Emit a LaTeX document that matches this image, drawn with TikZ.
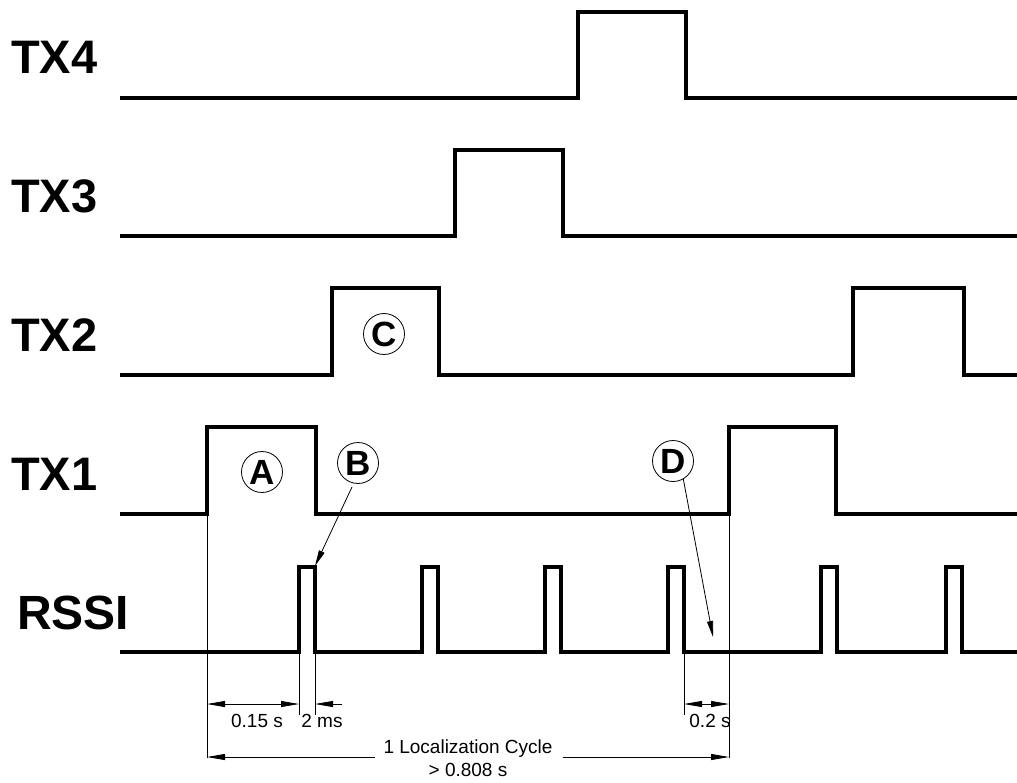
\documentclass[tikz,border=0pt]{standalone}
\usepackage{fontspec}
\setmainfont{Liberation Sans}
\usetikzlibrary{arrows.meta}
\begin{document}
\begin{tikzpicture}[x=1pt,y=-1pt,
  sig/.style={line width=3.2pt, line join=miter},
  fine/.style={line width=0.8pt},
  lbl/.style={font=\fontsize{47}{50}\selectfont\bfseries, anchor=base west, inner sep=0},
  circmark/.style={circle, draw, line width=0.8pt, minimum size=41pt, inner sep=0, outer sep=0, font=\fontsize{35}{35}\selectfont\bfseries},
  dimtxt/.style={font=\fontsize{19}{19}\selectfont, anchor=base, inner sep=0},
  >={Triangle[length=18pt,width=6pt]},
  callout/.style={fine, -{Triangle[length=16pt,width=6pt]}}
]
\useasboundingbox (0,0) rectangle (1017,782);

% labels
\node[lbl] (l4) at (11,73) {TX4};
\node[lbl] (l3) at (11,212) {TX3};
\node[lbl] (l2) at (11,351) {TX2};
\node[lbl] (l1) at (11,490) {TX1};
\node[lbl, font=\fontsize{48}{50}\selectfont\bfseries] (lr) at (17,629) {RSSI};

% waveforms
\draw[sig] (120,98) -- (578,98) -- (578,12) -- (686,12) -- (686,98) -- (1017,98);
\draw[sig] (120,236) -- (455,236) -- (455,150) -- (563,150) -- (563,236) -- (1017,236);
\draw[sig] (120,375) -- (332,375) -- (332,288) -- (439,288) -- (439,375)
  -- (853,375) -- (853,288) -- (964,288) -- (964,375) -- (1017,375);
\draw[sig] (120,514) -- (207,514) -- (207,427) -- (316,427) -- (316,514)
  -- (729,514) -- (729,427) -- (836,427) -- (836,514) -- (1017,514);
\draw[sig] (120,652)
  \foreach \p in {299,422,545,668,821,946} { -- (\p,652) -- (\p,567) -- (\p+16,567) -- (\p+16,652) }
  -- (1017,652);

% key points
\coordinate (t1a) at (207,514);
\coordinate (t1b) at (729,514);
\coordinate (p1a) at (299,652);
\coordinate (p1b) at (315,652);
\coordinate (p4b) at (684,652);
\coordinate (bt) at (315,566);
\coordinate (dt) at (713,637);

% extension lines
\draw[fine] (t1a) -- (207,758);
\draw[fine] (t1b) -- (729,758);
\draw[fine] (p1a) -- (299,715);
\draw[fine] (p1b) -- (315,715);
\draw[fine] (p4b) -- (684,715);

% circled markers
\node[circmark] (A) at (262,472) {A};
\node[circmark] (B) at (358,463) {B};
\node[circmark] (C) at (384,334) {C};
\node[circmark] (D) at (673,461) {D};

\draw[callout] ([shift={(-1,4)}]B.-104) -- (bt);
\draw[callout] (D.-60) -- (dt);

% dimensions
\node[dimtxt] (d15) at (257,727) {0.15 s};
\node[dimtxt] (d2) at (322,727) {2 ms};
\node[dimtxt] (d02) at (710,727) {0.2 s};
\node[dimtxt] (cyc) at (468,753) {1 Localization Cycle};
\node[dimtxt] (cyc2) at (468,776) {> 0.808 s};

\draw[fine,<->] (207,704) -- (299,704);
\draw[fine,->] (342,704) -- (315,704);
\draw[fine,<->] (684,704) -- (729,704);
\draw[fine,<-] (207,757) -- ([xshift=-8pt]cyc.west |- 0,757);
\draw[fine,->] ([xshift=10pt]cyc.east |- 0,757) -- (729,757);
\end{tikzpicture}
\end{document}
